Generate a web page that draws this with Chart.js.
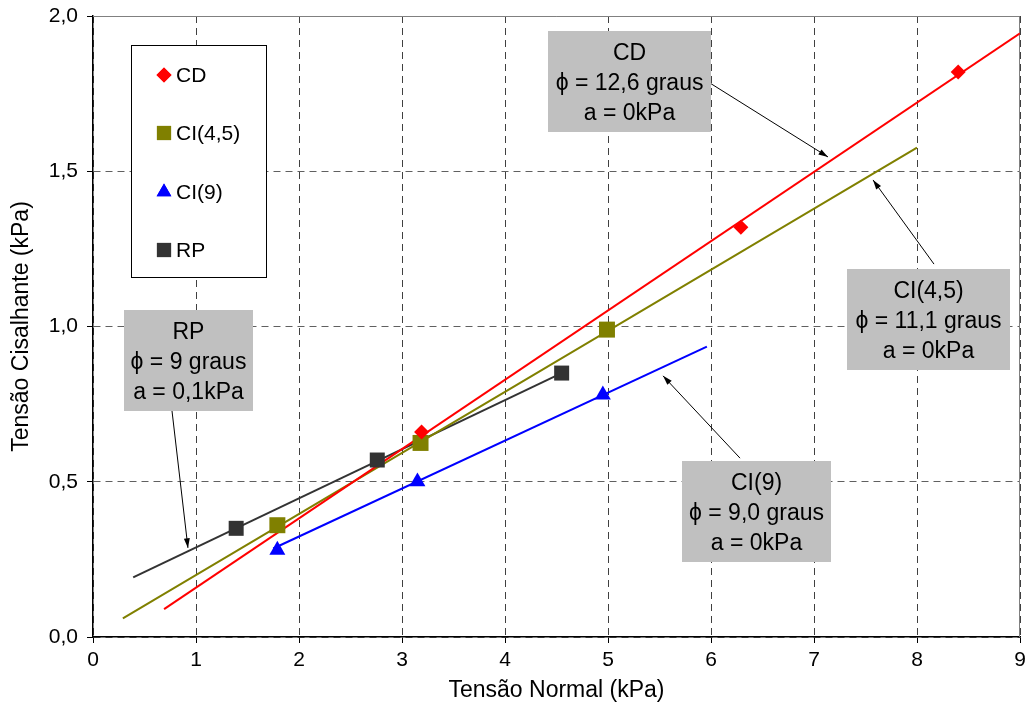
<!DOCTYPE html>
<html>
<head>
<meta charset="utf-8">
<script src="https://cdn.jsdelivr.net/npm/chart.js@4/dist/chart.umd.min.js"></script>
<style>
    body { margin: 0; background: #fff; }
    canvas { display: block; }
</style>
</head>
<body>
<canvas id="chart" width="1028" height="706"></canvas>
<script>
// ensaios de cisalhamento - pontos medidos
const cdX = [3.19, 6.29, 8.40];
const cdY = [0.66, 1.32, 1.82];
const ci45X = [1.79, 3.18, 4.99];
const ci45Y = [0.36, 0.625, 0.99];
const ci9X = [1.79, 3.15, 4.95];
const ci9Y = [0.28, 0.50, 0.78];
const rpX = [1.39, 2.76, 4.55];
const rpY = [0.35, 0.57, 0.85];

// retas de ajuste (extremos)
const cdFitX = [0.69, 9.0];
const cdFitY = [0.09, 1.944];
const ci45FitX = [0.29, 8.0];
const ci45FitY = [0.06, 1.576];
const ci9FitX = [1.75, 5.96];
const ci9FitY = [0.285, 0.935];
const rpFitX = [0.39, 4.55];
const rpFitY = [0.192, 0.85];

const xTicks = [0, 1, 2, 3, 4, 5, 6, 7, 8, 9];
const yTicks = [0, 0.5, 1.0, 1.5, 2.0];

const seriesNames = ['CD', 'CI(4,5)', 'CI(9)', 'RP'];

const notes = [
    { lines: ['CD', 'ϕ = 12,6 graus', 'a = 0kPa'], at: [5.209, 1.789], w: 163, from: [5.99, 1.784], to: [7.136, 1.546] },
    { lines: ['RP', 'ϕ = 9 graus', 'a = 0,1kPa'], at: [0.927, 0.89], w: 129, from: [0.767, 0.728], to: [0.922, 0.287] },
    { lines: ['CI(4,5)', 'ϕ = 11,1 graus', 'a = 0kPa'], at: [8.112, 1.023], w: 163, from: [8.165, 1.201], to: [7.573, 1.472] },
    { lines: ['CI(9)', 'ϕ = 9,0 graus', 'a = 0kPa'], at: [6.442, 0.404], w: 149, from: [6.282, 0.576], to: [5.534, 0.841] }
];

const FONT = '"Liberation Sans", Arial, sans-serif';

const toPoints = (xs, ys) => xs.map((x, i) => ({ x: x, y: ys[i] }));

const markerSet = (label, xs, ys, color, style, radius) => ({
    label: label,
    data: toPoints(xs, ys),
    showLine: false,
    pointStyle: style,
    pointRadius: radius,
    pointHoverRadius: radius,
    pointBackgroundColor: color,
    pointBorderColor: color,
    pointBorderWidth: 0
});

const fitSet = (xs, ys, color) => ({
    label: '',
    data: toPoints(xs, ys),
    showLine: true,
    borderColor: color,
    borderWidth: 2,
    pointRadius: 0,
    fill: false
});

const frame = {
    id: 'frame',
    beforeDatasetsDraw: (chart) => {
        const { ctx, chartArea: a } = chart;
        ctx.save();
        ctx.strokeStyle = '#808080';
        ctx.lineWidth = 1;
        ctx.beginPath();
        ctx.moveTo(a.left, a.top + 0.5);
        ctx.lineTo(a.right - 0.5, a.top + 0.5);
        ctx.lineTo(a.right - 0.5, a.bottom);
        ctx.stroke();
        ctx.restore();
    }
};

const legendBox = {
    id: 'legendBox',
    afterDatasetsDraw: (chart) => {
        const { ctx } = chart;
        ctx.save();
        ctx.fillStyle = '#fff';
        ctx.fillRect(131, 45, 135, 232);
        ctx.strokeStyle = '#000';
        ctx.lineWidth = 1;
        ctx.strokeRect(131.5, 45.5, 135, 232);
        ctx.font = '21px ' + FONT;
        ctx.textBaseline = 'middle';
        const rows = [75, 133, 192, 250];
        const sizes = [7.5, 10, 8.5, 10];
        seriesNames.forEach((name, i) => {
            const ds = chart.data.datasets[i];
            ctx.fillStyle = ds.pointBackgroundColor;
            ctx.strokeStyle = ds.pointBackgroundColor;
            Chart.helpers.drawPoint(ctx, { pointStyle: ds.pointStyle, radius: sizes[i], borderWidth: 0, rotation: 0 }, 164, rows[i]);
            ctx.fill();
            ctx.fillStyle = '#000';
            ctx.fillText(name, 176, rows[i] + 1);
        });
        ctx.restore();
    }
};

const notesPlugin = {
    id: 'notes',
    afterDatasetsDraw: (chart) => {
        const { ctx, scales: { x, y } } = chart;
        ctx.save();
        ctx.font = '23px ' + FONT;
        notes.forEach(n => {
            // seta
            const x1 = x.getPixelForValue(n.from[0]);
            const y1 = y.getPixelForValue(n.from[1]);
            const x2 = x.getPixelForValue(n.to[0]);
            const y2 = y.getPixelForValue(n.to[1]);
            ctx.strokeStyle = '#000';
            ctx.fillStyle = '#000';
            ctx.lineWidth = 1;
            ctx.beginPath();
            ctx.moveTo(x1, y1);
            ctx.lineTo(x2, y2);
            ctx.stroke();
            const ang = Math.atan2(y2 - y1, x2 - x1);
            ctx.beginPath();
            ctx.moveTo(x2, y2);
            ctx.lineTo(x2 - 10 * Math.cos(ang - 0.3), y2 - 10 * Math.sin(ang - 0.3));
            ctx.lineTo(x2 - 10 * Math.cos(ang + 0.3), y2 - 10 * Math.sin(ang + 0.3));
            ctx.closePath();
            ctx.fill();

            // caixa
            const h = 101;
            const cx = x.getPixelForValue(n.at[0]);
            const cy = y.getPixelForValue(n.at[1]);
            ctx.fillStyle = '#c0c0c0';
            ctx.fillRect(Math.round(cx - n.w / 2), Math.round(cy - h / 2), n.w, h);
            ctx.fillStyle = '#000';
            ctx.textAlign = 'center';
            ctx.textBaseline = 'middle';
            n.lines.forEach((t, i) => ctx.fillText(t, cx, cy + (i - 1) * 30 + 2));
        });
        ctx.restore();
    }
};

const fmt = (v, d) => v.toFixed(d).replace('.', ',');

const ctx = document.getElementById('chart').getContext('2d');

const myChart = new Chart(ctx, {
    type: 'scatter',
    data: {
        datasets: [
            markerSet('CD', cdX, cdY, '#ff0000', 'rectRot', 7.5),
            markerSet('CI(4,5)', ci45X, ci45Y, '#808000', 'rect', 11.3),
            markerSet('CI(9)', ci9X, ci9Y, '#0000ff', 'triangle', 9.2),
            markerSet('RP', rpX, rpY, '#333333', 'rect', 10.6),
            fitSet(cdFitX, cdFitY, '#ff0000'),
            fitSet(ci45FitX, ci45FitY, '#808000'),
            fitSet(ci9FitX, ci9FitY, '#0000ff'),
            fitSet(rpFitX, rpFitY, '#333333')
        ]
    },
    options: {
        responsive: false,
        animation: false,
        events: [],
        layout: { autoPadding: false, padding: { top: 16, right: 8, left: 0, bottom: 0 } },
        plugins: {
            legend: { display: false },
            tooltip: { enabled: false }
        },
        scales: {
            x: {
                type: 'linear',
                min: 0,
                max: 9,
                afterBuildTicks: (axis) => { axis.ticks = xTicks.map(v => ({ value: v })); },
                afterFit: (axis) => {
                    axis.height = 69;
                    axis.paddingLeft = 0;
                    axis.paddingRight = 0;
                },
                ticks: {
                    color: '#000',
                    padding: 5,
                    font: { family: FONT, size: 21 },
                    callback: (v) => fmt(v, 0)
                },
                grid: { color: '#404040', lineWidth: 1, tickLength: 6, tickColor: '#000' },
                border: { display: true, color: '#000', width: 1.5, dash: [7, 5] },
                title: {
                    display: true,
                    text: 'Tensão Normal (kPa)',
                    color: '#000',
                    font: { family: FONT, size: 23 },
                    padding: { top: 0, bottom: 2 }
                }
            },
            y: {
                type: 'linear',
                min: 0,
                max: 2,
                afterBuildTicks: (axis) => { axis.ticks = yTicks.map(v => ({ value: v })); },
                afterFit: (axis) => {
                    axis.width = 93;
                    axis.paddingTop = 0;
                    axis.paddingBottom = 0;
                },
                ticks: {
                    color: '#000',
                    padding: 9,
                    font: { family: FONT, size: 21 },
                    callback: (v) => fmt(v, 1)
                },
                grid: { color: '#606060', lineWidth: 1, tickLength: 6, tickColor: '#000' },
                border: { display: true, color: '#000', width: 1.5, dash: [7, 5] },
                title: {
                    display: true,
                    text: 'Tensão Cisalhante (kPa)',
                    color: '#000',
                    font: { family: FONT, size: 23 },
                    padding: { top: 8, bottom: 0 }
                }
            }
        }
    },
    plugins: [frame, legendBox, notesPlugin]
});
</script>
</body>
</html>
